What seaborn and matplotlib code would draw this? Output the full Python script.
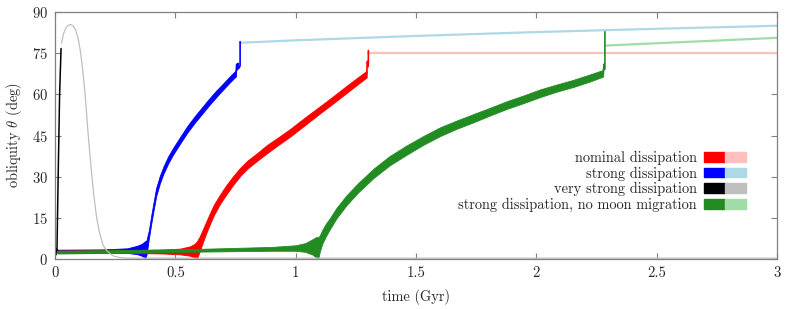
import matplotlib
matplotlib.use("Agg")
import matplotlib.pyplot as plt
import seaborn as sns
from matplotlib.patches import Rectangle
from matplotlib.legend_handler import HandlerTuple

# --- datos (tiempo en Gyr, oblicuidad en grados) ---
# disipacion nominal (banda roja)
red_t = [0.01, 0.3, 0.45, 0.52, 0.56, 0.58, 0.59, 0.6, 0.61, 0.62, 0.63, 0.645, 0.66, 0.685,
         0.71, 0.74, 0.77, 0.8, 0.84, 0.88, 0.93, 0.98, 1.04, 1.1, 1.16, 1.22, 1.295]
red_lo = [2.2, 2.2, 2.0, 1.7, 1.2, 0.5, 0.2, 2.5, 5.0, 7.5, 9.8, 13.0, 16.0, 20.0,
          23.3, 27.0, 30.3, 33.0, 35.8, 38.5, 41.7, 44.8, 48.9, 53.0, 57.0, 61.1, 66.2]
red_hi = [3.1, 3.2, 3.4, 3.8, 4.6, 5.5, 6.5, 8.0, 10.0, 12.0, 14.0, 17.0, 19.8, 23.4,
          26.7, 30.2, 33.3, 35.9, 38.6, 41.5, 44.5, 47.6, 51.7, 55.6, 59.6, 63.7, 68.6]
red_jump_t = [1.295, 1.298, 1.300, 1.302, 1.302]
red_jump_y = [67.4, 72, 70, 71, 76]
red_after_t = [1.302, 3.0]
red_after_y = [75, 75]

# disipacion fuerte (banda azul)
blue_t = [0.01, 0.2, 0.3, 0.34, 0.36, 0.37, 0.375, 0.38, 0.39, 0.40, 0.41, 0.42, 0.435,
          0.45, 0.47, 0.49, 0.52, 0.55, 0.58, 0.61, 0.64, 0.67, 0.70, 0.73, 0.752]
blue_lo = [2.3, 2.3, 2.2, 1.8, 1.2, 0.6, 0.2, 1.5, 7.5, 13.0, 18.0, 22.8, 27.4,
           31.0, 34.8, 38.0, 42.1, 46.1, 49.6, 52.8, 56.0, 59.0, 61.9, 64.7, 66.6]
blue_hi = [3.4, 3.5, 3.9, 4.8, 5.5, 6.2, 6.5, 6.8, 10.5, 16.0, 21.0, 25.8, 30.2,
           33.6, 37.4, 40.4, 44.5, 48.5, 52.0, 55.2, 58.4, 61.4, 64.1, 66.9, 68.8]
blue_jump_t = [0.752, 0.755, 0.758, 0.76, 0.763, 0.767, 0.769, 0.769]
blue_jump_y = [67.7, 71, 69, 71.3, 69.5, 70, 70.5, 79.2]
blue_after_t = [0.77, 1.0, 1.5, 2.0, 2.5, 3.0]
blue_after_y = [78.8, 79.7, 81.3, 82.7, 83.9, 85.0]

# disipacion muy fuerte (negro / gris)
black_t = [0.004, 0.006, 0.008, 0.013, 0.019, 0.025]
black_y = [1.5, 3.5, 3, 30, 60, 76.7]
gray_t = [0.027, 0.035, 0.045, 0.055, 0.066, 0.075, 0.085, 0.095, 0.105, 0.115, 0.125,
          0.138, 0.15, 0.16, 0.173, 0.185, 0.2, 0.215, 0.228, 0.245, 0.27, 0.3, 3.0]
gray_y = [78.7, 82.0, 84.2, 85.2, 85.4, 85.0, 83.6, 80.8, 76.0, 69.0, 60.0,
          45.0, 33.0, 24.0, 15.0, 9.5, 5.0, 3.0, 2.0, 1.0, 0.5, 0.3, 0.3]

# disipacion fuerte sin migracion lunar (banda verde)
green_t = [0.01, 0.3, 0.6, 0.9, 1.0, 1.04, 1.07, 1.085, 1.094, 1.10, 1.11, 1.125, 1.143,
           1.17, 1.212, 1.26, 1.323, 1.39, 1.461, 1.53, 1.60, 1.67, 1.738, 1.81, 1.877,
           1.95, 2.015, 2.085, 2.154, 2.22, 2.278]
green_lo = [2.0, 2.3, 2.7, 3.0, 3.0, 2.6, 1.6, 0.6, 0.3, 2.6, 5.5, 8.2, 11.0,
            14.9, 19.7, 24.3, 29.5, 34.1, 38.0, 41.6, 44.8, 47.5, 49.8, 52.4, 54.7,
            56.9, 59.0, 61.0, 62.7, 64.6, 66.5]
green_hi = [3.0, 3.3, 3.7, 4.4, 5.0, 5.8, 7.2, 8.0, 7.9, 8.6, 10.5, 12.8, 15.0,
            18.7, 23.3, 27.7, 32.9, 37.5, 41.4, 44.8, 48.0, 50.5, 52.8, 55.2, 57.5,
            59.7, 61.8, 63.6, 65.3, 67.2, 68.9]
green_jump_t = [2.278, 2.281, 2.283, 2.285, 2.285]
green_jump_y = [67.7, 71, 69, 70, 82.8]
green_after_t = [2.29, 3.0]
green_after_y = [77.8, 80.6]

labels = ["nominal dissipation", "strong dissipation", "very strong dissipation",
          "strong dissipation, no moon migration"]
dark = ["#ff0000", "#0000ff", "#000000", "#228b22"]
light = ["#ffbfbf", "#add8e6", "#bebebe", "#a0dca8"]

sns.set_style("ticks")
plt.rcParams["font.family"] = "serif"
plt.rcParams["font.serif"] = ["cmr10", "DejaVu Serif"]
plt.rcParams["mathtext.fontset"] = "cm"
plt.rcParams["axes.formatter.use_mathtext"] = True
plt.rcParams["font.size"] = 10.4

fig = plt.figure(figsize=(7.93, 3.09), dpi=100)
ax = fig.add_axes([0.0694, 0.1618, 0.9104, 0.7992])

# curvas claras (despues del salto)
sns.lineplot(x=gray_t, y=gray_y, ax=ax, color=light[2], lw=0.9, estimator=None, sort=False)
sns.lineplot(x=red_after_t, y=red_after_y, ax=ax, color=light[0], lw=1.6, estimator=None, sort=False)
sns.lineplot(x=blue_after_t, y=blue_after_y, ax=ax, color=light[1], lw=1.6, estimator=None, sort=False)
sns.lineplot(x=green_after_t, y=green_after_y, ax=ax, color=light[3], lw=1.6, estimator=None, sort=False)

# curvas oscuras
sns.lineplot(x=black_t, y=black_y, ax=ax, color=dark[2], lw=1.1, estimator=None, sort=False)
for t, lo, hi, jt, jy, c in [
    (blue_t, blue_lo, blue_hi, blue_jump_t, blue_jump_y, dark[1]),
    (red_t, red_lo, red_hi, red_jump_t, red_jump_y, dark[0]),
    (green_t, green_lo, green_hi, green_jump_t, green_jump_y, dark[3]),
]:
    ax.fill_between(t, lo, hi, color=c, lw=0.6, edgecolor=c)
    sns.lineplot(x=jt, y=jy, ax=ax, color=c, lw=1.2, estimator=None, sort=False)

ax.set_xlim(0, 3)
ax.set_ylim(0, 90)
ax.set_xticks([0, 0.5, 1, 1.5, 2, 2.5, 3])
ax.set_xticklabels(["0", "0.5", "1", "1.5", "2", "2.5", "3"])
ax.set_yticks(range(0, 91, 15))
ax.tick_params(direction="in", top=True, right=True, length=4, width=0.8,
               color="#808080", labelsize=10.6, pad=5)
for s in ax.spines.values():
    s.set_color("#808080")
    s.set_linewidth(0.9)
ax.set_xlabel("time (Gyr)", fontsize=10.4, labelpad=7)
ax.set_ylabel(r"obliquity $\theta$ (deg)", fontsize=10.4, labelpad=6)

handles = [(Rectangle((0, 0), 1, 1, color=d), Rectangle((0, 0), 1, 1, color=l))
           for d, l in zip(dark, light)]
ax.legend(handles, labels, handler_map={tuple: HandlerTuple(ndivide=None, pad=0)},
          loc="lower right", bbox_to_anchor=(0.957, 0.19), frameon=False,
          markerfirst=False, handlelength=2.9, handleheight=0.65, handletextpad=0.5,
          labelspacing=0.1, borderpad=0, borderaxespad=0, fontsize=10.4)

fig.savefig("out.png", dpi=100)
